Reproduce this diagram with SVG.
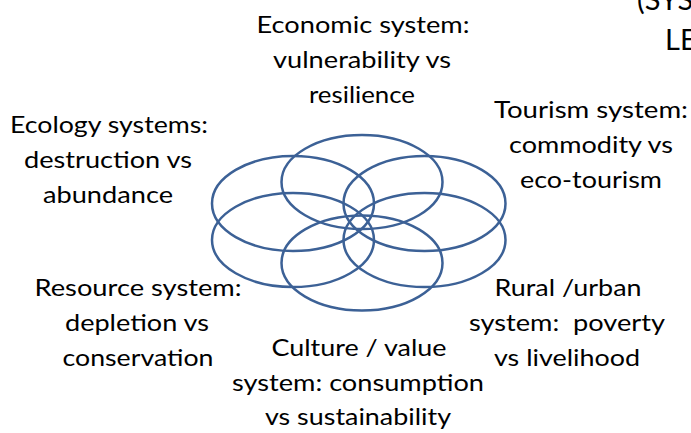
<svg xmlns="http://www.w3.org/2000/svg" width="691" height="433" viewBox="0 0 691 433">
<style>
.e{fill:none;stroke:#3C6196;stroke-width:2.5}
.t{font-family:Lato,"Open Sans","Liberation Sans",sans-serif;font-size:24px;fill:#000;text-anchor:middle;white-space:pre}
.h{font-family:Lato,"Open Sans","Liberation Sans",sans-serif;font-size:29px;fill:#000}
</style>
<rect width="691" height="433" fill="#fff"/>
<g id="petals">
<ellipse id="p-top" class="e" cx="362" cy="182" rx="80.5" ry="47"/>
<ellipse id="p-bottom" class="e" cx="362" cy="263" rx="80.5" ry="47.5"/>
<ellipse id="p-ul" class="e" cx="293" cy="203.5" rx="81" ry="47.5"/>
<ellipse id="p-ll" class="e" cx="293" cy="240" rx="81" ry="47"/>
<ellipse id="p-ur" class="e" cx="424.5" cy="203.5" rx="81" ry="47.5"/>
<ellipse id="p-lr" class="e" cx="424.5" cy="240" rx="81" ry="47"/>
</g>
<g id="connectors"></g>
<g id="title">
<text class="h" x="637" y="10">(SYS</text>
<text class="h" x="665" y="50">LE</text>
</g>
<g id="economic">
<text class="t" x="363" y="33" textLength="213" lengthAdjust="spacingAndGlyphs">Economic system:</text>
<text class="t" x="362" y="68" textLength="178" lengthAdjust="spacingAndGlyphs">vulnerability vs</text>
<text class="t" x="362" y="103" textLength="106" lengthAdjust="spacingAndGlyphs">resilience</text>
</g>
<g id="ecology">
<text class="t" x="109" y="133" textLength="198" lengthAdjust="spacingAndGlyphs">Ecology systems:</text>
<text class="t" x="108" y="168" textLength="168" lengthAdjust="spacingAndGlyphs">destruction vs</text>
<text class="t" x="108" y="203" textLength="130" lengthAdjust="spacingAndGlyphs">abundance</text>
</g>
<g id="tourism">
<text class="t" x="591" y="118" textLength="194" lengthAdjust="spacingAndGlyphs">Tourism system:</text>
<text class="t" x="591" y="153" textLength="164" lengthAdjust="spacingAndGlyphs">commodity vs</text>
<text class="t" x="591" y="188" textLength="142" lengthAdjust="spacingAndGlyphs">eco-tourism</text>
</g>
<g id="resource">
<text class="t" x="138" y="296" textLength="207" lengthAdjust="spacingAndGlyphs">Resource system:</text>
<text class="t" x="137" y="331" textLength="144" lengthAdjust="spacingAndGlyphs">depletion vs</text>
<text class="t" x="138" y="366" textLength="151" lengthAdjust="spacingAndGlyphs">conservation</text>
</g>
<g id="rural">
<text class="t" x="568" y="296" textLength="147" lengthAdjust="spacingAndGlyphs">Rural /urban</text>
<text class="t" x="567" y="331" textLength="196" lengthAdjust="spacingAndGlyphs" xml:space="preserve">system:  poverty</text>
<text class="t" x="567" y="366" textLength="146" lengthAdjust="spacingAndGlyphs">vs livelihood</text>
</g>
<g id="culture">
<text class="t" x="359" y="356" textLength="175" lengthAdjust="spacingAndGlyphs">Culture / value</text>
<text class="t" x="358" y="391" textLength="252" lengthAdjust="spacingAndGlyphs">system: consumption</text>
<text class="t" x="358" y="425" textLength="186" lengthAdjust="spacingAndGlyphs">vs sustainability</text>
</g>
</svg>
